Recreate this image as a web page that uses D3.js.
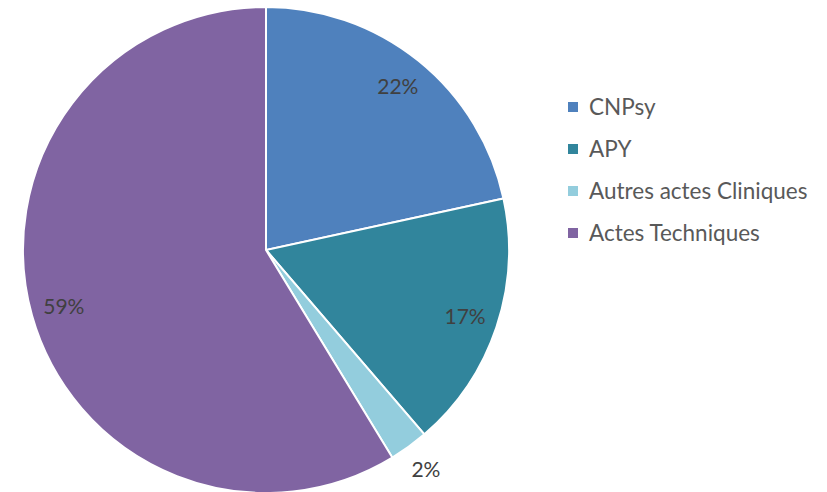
<!DOCTYPE html>
<html>
<head>
<meta charset="utf-8">
<script src="https://cdn.jsdelivr.net/npm/d3@7"></script>
<style>
body { margin: 0; background: #fff; }
</style>
</head>
<body>
<div class="content"></div>
<script>
var categories = ["CNPsy", "APY", "Autres actes Cliniques", "Actes Techniques"];
var values = [21.6, 17.1, 2.6, 58.7];
var labels = ["22%", "17%", "2%", "59%"];
var colors = ["#4F81BD", "#31859C", "#93CDDD", "#8064A2"];

var width = 827, height = 492;
var cx = 266, cy = 250, radius = 243;

var svg = d3.select('.content').append("svg").attr("width", width).attr("height", height)
  .style("font-family", "Lato, 'Open Sans', sans-serif");

var g = svg.append("g").attr("transform", "translate(" + cx + "," + cy + ")");

var pie = d3.pie().sort(null).value(function(d){ return d; });
var arcs = pie(values);
var arc = d3.arc().innerRadius(0).outerRadius(radius);

g.selectAll("path").data(arcs).enter().append("path")
  .attr("d", arc)
  .attr("fill", function(d, i){ return colors[i]; })
  .attr("stroke", "#fff").attr("stroke-width", 2);

// labels: inside at r~210, small slice outside
g.selectAll("text").data(arcs).enter().append("text")
  .attr("transform", function(d, i){
    var r = values[i] < 5 ? 272 : 210;
    var a = (d.startAngle + d.endAngle) / 2;
    return "translate(" + (Math.sin(a) * r) + "," + (-Math.cos(a) * r) + ")";
  })
  .attr("text-anchor", "middle").attr("dy", "0.35em")
  .attr("font-size", 21).attr("fill", "#404040")
  .text(function(d, i){ return labels[i]; });

var legend = svg.append("g").attr("transform", "translate(568,107)");
var items = legend.selectAll("g").data(categories).enter().append("g")
  .attr("transform", function(d, i){ return "translate(0," + (i * 42) + ")"; });
items.append("rect").attr("x", 0).attr("y", -5).attr("width", 10).attr("height", 10)
  .attr("fill", function(d, i){ return colors[i]; });
items.append("text").attr("x", 21).attr("dy", "0.35em")
  .attr("font-size", 22.5).attr("fill", "#595959")
  .text(function(d){ return d; });
</script>
</body>
</html>
